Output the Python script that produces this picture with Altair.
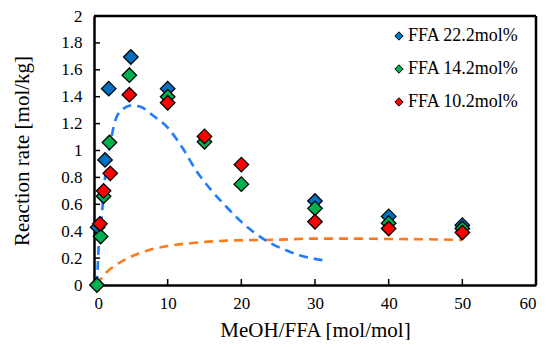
import altair as alt
import pandas as pd

series_names = ["FFA 22.2mol%", "FFA 14.2mol%", "FFA 10.2mol%"]
series_colors = ["#0070C0", "#00B050", "#FF0000"]

blue_x = [0.5, 1.5, 2, 5, 10, 30, 40, 50]
blue_y = [0.43, 0.93, 1.46, 1.695, 1.46, 0.625, 0.51, 0.445]
green_x = [0.4, 0.9, 1.3, 2.1, 4.8, 10, 15, 20, 30, 40, 50]
green_y = [0.0, 0.36, 0.66, 1.06, 1.56, 1.40, 1.065, 0.75, 0.57, 0.46, 0.42]
red_x = [0.8, 1.3, 2.2, 4.8, 10, 15, 20, 30, 40, 50]
red_y = [0.455, 0.70, 0.83, 1.415, 1.355, 1.105, 0.895, 0.47, 0.42, 0.39]

model1_x = [0.4, 0.6, 1.0, 1.5, 2.2, 3, 4, 5, 6.3, 8, 10, 12, 14, 16, 18, 20, 22, 24, 26, 28, 31]
model1_y = [0.0, 0.25, 0.48, 0.80, 1.05, 1.24, 1.31, 1.335, 1.325, 1.26, 1.17, 1.02, 0.84, 0.70, 0.58, 0.47, 0.38, 0.31, 0.26, 0.22, 0.185]
model2_x = [0.4, 1, 2, 3, 5, 7.5, 10, 14, 18, 25, 30, 35, 40, 45, 50]
model2_y = [0.0, 0.05, 0.11, 0.15, 0.21, 0.26, 0.29, 0.315, 0.33, 0.337, 0.345, 0.345, 0.342, 0.34, 0.335]

x_ticks = [10, 20, 30, 40, 50]
y_ticks = [0.2, 0.4, 0.6, 0.8, 1.0, 1.2, 1.4, 1.6, 1.8]
x_labels = [0, 10, 20, 30, 40, 50, 60]
y_labels = [0, 0.2, 0.4, 0.6, 0.8, 1.0, 1.2, 1.4, 1.6, 1.8, 2.0]

W, H = 442, 269
FONT = "Liberation Serif"

rows = []
for name, xs, ys in zip(series_names, [blue_x, green_x, red_x], [blue_y, green_y, red_y]):
    for xv, yv in zip(xs, ys):
        rows.append({"x": xv, "y": yv, "series": name})
pts = pd.DataFrame(rows)
pts["order"] = pts["series"].map({n: i for i, n in enumerate(series_names)})

xscale = alt.Scale(domain=[0, 60], nice=False)
yscale = alt.Scale(domain=[0, 2], nice=False)

xaxis = alt.Axis(values=x_labels, title="MeOH/FFA [mol/mol]", grid=False,
                 tickSize=0, labelFontSize=17, titleFontSize=21, labelPadding=10,
                 titlePadding=8, domainColor="black", domainWidth=2.5, labelColor="black",
                 titleColor="black", titleFontWeight="normal", labelFont=FONT, titleFont=FONT,
                 labelOverlap=False)
yaxis = alt.Axis(values=y_labels, format=".1~f",
                 title="Reaction rate [mol/kg]", grid=False, tickSize=0, labelFontSize=17,
                 titleFontSize=21, labelPadding=12, titlePadding=28, domainColor="black",
                 domainWidth=2.5, labelColor="black", titleColor="black",
                 titleFontWeight="normal", labelFont=FONT, titleFont=FONT,
                 labelOverlap=False)

X = alt.X("x:Q", scale=xscale, axis=xaxis)
Y = alt.Y("y:Q", scale=yscale, axis=yaxis)

points = alt.Chart(pts).mark_point(shape="diamond", filled=True, size=210, stroke="black",
                                   strokeWidth=1.3, opacity=1).encode(
    x=X, y=Y,
    color=alt.Color("series:N", scale=alt.Scale(domain=series_names, range=series_colors),
                    legend=alt.Legend(title=None, orient="none", legendX=296, legendY=11,
                                      symbolType="diamond", symbolSize=70,
                                      symbolStrokeColor="black", symbolStrokeWidth=1,
                                      labelFont=FONT, labelFontSize=18, labelColor="black",
                                      rowPadding=15, padding=0, labelOffset=0,
                                      labelLimit=300)),
    order="order:Q",
)

m1 = pd.DataFrame({"x": model1_x, "y": model1_y})
m2 = pd.DataFrame({"x": model2_x, "y": model2_y})
line1 = alt.Chart(m1).mark_line(strokeDash=[9, 6], strokeWidth=2.6, color="#1F7BFF",
                                interpolate="monotone").encode(x=X, y=Y)
line2 = alt.Chart(m2).mark_line(strokeDash=[9, 6], strokeWidth=2.6, color="#FF7A1A",
                                interpolate="monotone").encode(x=X, y=Y)

xt = pd.DataFrame({"x": x_ticks})
yt = pd.DataFrame({"y": y_ticks})
xtick = alt.Chart(xt).mark_rule(color="black", strokeWidth=1.5).encode(
    x=X, y=alt.value(H - 6), y2=alt.value(H))
ytick = alt.Chart(yt).mark_rule(color="black", strokeWidth=1.5).encode(
    y=Y, x=alt.value(0), x2=alt.value(6))

top_border = alt.Chart(pd.DataFrame({"k": [0]})).mark_rule(color="black", strokeWidth=2.5).encode(
    x=alt.value(0), x2=alt.value(W), y=alt.value(0))
right_border = alt.Chart(pd.DataFrame({"k": [0]})).mark_rule(color="black", strokeWidth=2.5).encode(
    x=alt.value(W), y=alt.value(0), y2=alt.value(H))

chart = alt.layer(line2, line1, xtick, ytick, top_border, right_border, points).properties(
    width=W, height=H,
    autosize=alt.AutoSizeParams(type="none"),
    padding={"left": 86, "top": 8, "right": 2, "bottom": 55},
).configure_view(stroke=None).configure_legend(
    labelFont=FONT, labelFontSize=18, labelColor="black"
).configure(background="white", font=FONT)

chart.save("out.html", embed_options={"renderer": "svg", "actions": False})
